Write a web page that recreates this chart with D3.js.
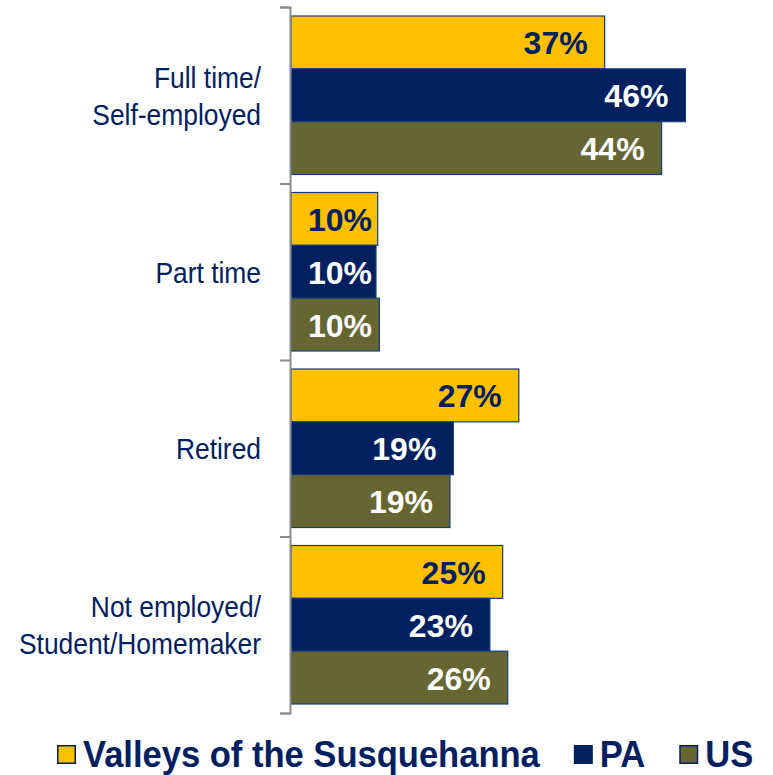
<!DOCTYPE html>
<html>
<head>
<meta charset="utf-8">
<script src="https://cdn.jsdelivr.net/npm/d3@7"></script>
<style>
  body { margin: 0; background: #fff; }
  svg { display: block; font-family: "Liberation Sans", Arial, sans-serif; }
</style>
</head>
<body>
<svg width="773" height="775"></svg>
<script>
const categories = [["Full time/", "Self-employed"], ["Part time"], ["Retired"], ["Not employed/", "Student/Homemaker"]];
const seriesNames = ["Valleys of the Susquehanna", "PA", "US"];
const valleys = [36.9, 10.2, 26.8, 24.9];
const pa = [46.4, 10.0, 19.1, 23.4];
const us = [43.6, 10.4, 18.7, 25.5];
const colors = ["#ffc000", "#002060", "#666633"];
const labelColors = ["#002060", "#ffffff", "#ffffff"];

const svg = d3.select("svg");
const navy = "#002060";
const catKeys = categories.map(c => c.join(" "));
const seriesValues = [valleys, pa, us];

const x = d3.scaleLinear().domain([0, 50]).range([291, 716]);
const y0 = d3.scaleBand().domain(catKeys).range([7, 713]);
const y1 = d3.scaleBand().domain(seriesNames).range([9, y0.bandwidth() - 9]);

// bars
const groups = svg.selectAll("g.cat")
  .data(catKeys)
  .enter()
  .append("g")
  .attr("class", "cat")
  .attr("transform", d => `translate(0,${y0(d)})`);

const bars = groups.selectAll("g.bar")
  .data((d, i) => seriesNames.map((s, j) => ({ s, j, v: seriesValues[j][i] })))
  .enter()
  .append("g")
  .attr("class", "bar");

bars.append("rect")
  .attr("x", x(0))
  .attr("y", d => y1(d.s))
  .attr("width", d => x(d.v) - x(0))
  .attr("height", y1.bandwidth())
  .attr("fill", d => colors[d.j])
  .attr("stroke", "#143c7a")
  .attr("stroke-width", 1.2);

bars.append("text")
  .attr("y", d => y1(d.s) + y1.bandwidth() / 2 + 12)
  .attr("text-anchor", "end")
  .attr("font-size", 32)
  .attr("font-weight", "bold")
  .attr("fill", d => labelColors[d.j])
  .text(d => Math.round(d.v) + "%")
  .attr("x", function (d) {
    const w = this.getComputedTextLength();
    return Math.max(x(d.v) - 17, x(0) + 17 + w);
  });

// axis
const axis = d3.axisLeft(d3.scaleLinear().domain([0, 1]).range([7, 713]))
  .tickValues(d3.range(0, 1.0001, 0.25))
  .tickSize(10)
  .tickFormat("");

const axisG = svg.append("g")
  .attr("transform", "translate(290,0)")
  .call(axis);
axisG.select(".domain").attr("stroke", "#8c8c8c").attr("stroke-width", 2);
axisG.selectAll(".tick line").attr("stroke", "#8c8c8c").attr("stroke-width", 2);

// category labels
categories.forEach((lines, i) => {
  const cy = y0(catKeys[i]) + y0.bandwidth() / 2;
  const first = cy + 11 - (lines.length - 1) * 37 / 2;
  lines.forEach((line, k) => {
    svg.append("text")
      .attr("transform", `translate(261,${first + k * 37}) scale(0.88,1)`)
      .attr("text-anchor", "end")
      .attr("font-size", 30)
      .attr("fill", navy)
      .text(line);
  });
});

// legend
let lx = 57;
seriesNames.forEach((name, j) => {
  svg.append("rect")
    .attr("x", lx + 0.75)
    .attr("y", 745.75)
    .attr("width", 17.5)
    .attr("height", 17.5)
    .attr("fill", colors[j])
    .attr("stroke", navy)
    .attr("stroke-width", 1.5);
  const t = svg.append("text")
    .attr("transform", `translate(${lx + 26},767) scale(0.96,1)`)
    .attr("font-size", 36)
    .attr("font-weight", "bold")
    .attr("fill", navy)
    .text(name);
  lx += 26 + t.node().getComputedTextLength() * 0.96 + 34;
});
</script>
</body>
</html>
